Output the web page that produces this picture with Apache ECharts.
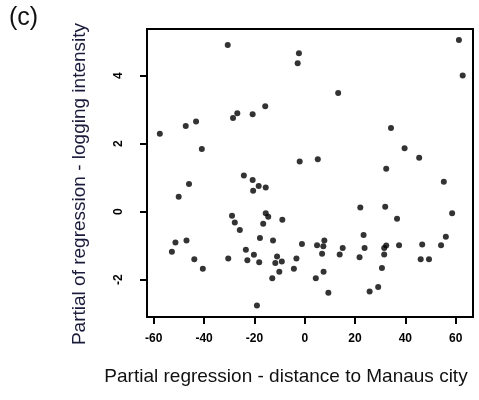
<!DOCTYPE html>
<html>
<head>
<meta charset="utf-8">
<script src="https://cdn.jsdelivr.net/npm/echarts@6/dist/echarts.min.js"></script>
<style>
html,body{margin:0;padding:0;background:#fff;}
#chart{width:479px;height:400px;}
</style>
</head>
<body>
<div id="chart"></div>
<script>
// Partial regression - distance to Manaus city
const xVals = [-30.6,-28.5,-26.8,-20.7,-43.2,-47.3,-57.6,-40.9,-24.2,-2.3,-2.8,13.3,-15.7,-2.0,5.2,61.3,62.8,34.3,39.7,45.5,32.4,
  -20.7,-20.5,-46.0,-50.1,-28.9,-27.8,-25.8,-47.0,-51.4,-52.8,-43.9,-40.5,-30.4,-23.4,-22.8,-20.2,-19.0,
  -18.3,-15.5,-15.5,-14.5,-16.5,-8.9,-17.8,-12.6,-18.1,-11.0,-11.7,-9.1,-10.1,-12.9,-3.3,-4.3,-1.1,4.9,7.8,7.4,6.9,4.4,7.5,9.4,15.1,13.9,22.1,23.4,23.8,21.8,
  55.3,58.6,32.0,36.7,31.6,32.4,31.6,37.5,30.7,29.2,25.8,46.7,46.1,49.4,54.2,56.1];
// Partial of regression - logging intensity
const yVals = [4.90,2.75,2.89,2.86,2.65,2.52,2.29,1.84,1.06,4.66,4.36,3.49,3.10,1.47,1.54,5.05,4.00,2.46,1.86,1.58,1.26,
  0.93,0.61,0.81,0.44,-0.12,-0.32,-0.54,-0.85,-0.91,-1.18,-1.40,-1.68,-1.38,-1.12,-1.43,-1.27,-2.76,
  0.75,0.71,-0.05,-0.15,-0.36,-0.24,-0.78,-0.85,-1.49,-1.32,-1.51,-1.47,-1.77,-1.96,-1.38,-1.68,-0.95,-0.99,-0.85,-1.02,-1.24,-1.96,-1.77,-2.39,-1.07,-1.26,0.12,-0.69,-1.07,-1.34,
  0.88,-0.05,0.14,-0.21,-1.07,-1.00,-1.26,-0.99,-1.66,-2.22,-2.35,-0.97,-1.40,-1.40,-0.99,-0.74];
const xTicks = [-60,-40,-20,0,20,40,60];
const yTicks = [-2,0,2,4];
const panelLabel = '(c)';
const xTitle = 'Partial regression - distance to Manaus city';
const yTitle = 'Partial of regression - logging intensity';

const points = xVals.map((x,i)=>[x,yVals[i]]);
const font = '"Liberation Sans", Arial, sans-serif';
const chart = echarts.init(document.getElementById('chart'), null, {renderer:'canvas'});
chart.setOption({
  animation:false,
  backgroundColor:'#fff',
  grid:{left:147,right:6,top:29,bottom:83,show:true,borderColor:'#000',borderWidth:2,backgroundColor:'transparent'},
  xAxis:{type:'value',min:-62.7,max:66.9,
    axisLine:{show:false,onZero:false},splitLine:{show:false},
    axisTick:{show:true,length:7,customValues:xTicks,lineStyle:{color:'#000',width:2}},
    axisLabel:{customValues:xTicks,margin:16,color:'#000',fontWeight:'bold',fontSize:12,fontFamily:font}},
  yAxis:{type:'value',min:-3.1,max:5.37,
    axisLine:{show:false,onZero:false},splitLine:{show:false},
    axisTick:{show:true,length:7,customValues:yTicks,lineStyle:{color:'#000',width:2}},
    axisLabel:{customValues:yTicks,rotate:90,margin:22,color:'#000',fontWeight:'bold',fontSize:12,fontFamily:font}},
  graphic:[
    {type:'text',left:9,top:6,style:{text:panelLabel,font:'25px '+font,fill:'#111'}},
    {type:'text',x:286,y:377,style:{text:xTitle,font:'19px '+font,fill:'#111',align:'center',verticalAlign:'middle'}},
    {type:'text',x:80,y:184,rotation:Math.PI/2,style:{text:yTitle,font:'19px '+font,fill:'#1a1a3a',align:'center',verticalAlign:'middle'}}
  ],
  series:[{type:'scatter',data:points,symbol:'circle',symbolSize:6,itemStyle:{color:'#000'}}]
});
</script>
</body>
</html>
